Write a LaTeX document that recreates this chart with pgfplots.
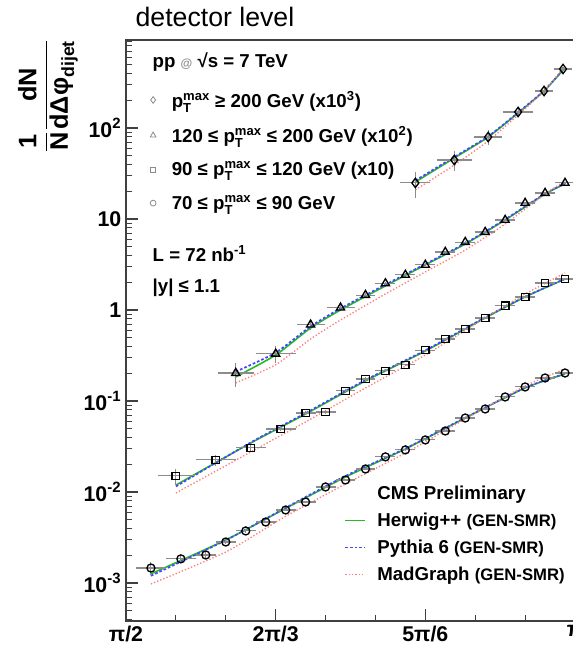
\documentclass[border=0pt]{standalone}
\usepackage{fontspec}
\setmainfont{Liberation Sans}
\usepackage{amsmath}
\usepackage{pgfplots}
\pgfplotsset{compat=1.18}
\usepackage{pgfplotstable}

\definecolor{herwiggreen}{RGB}{40,185,40}
\definecolor{pythiablue}{RGB}{70,70,255}
\definecolor{madpink}{RGB}{255,125,125}

% >= 200 GeV (x1000)
\pgfplotstableread{
x y ex ey
2.5831 24.9 0.0524 8
2.7192 44.5 0.0611 11
2.8379 79.6 0.0489 15
2.9426 150 0.0524 14
3.0334 255 0.0314 18
3.0997 445 0.0314 25
}\dataA
% 120-200 GeV (x100)
\pgfplotstableread{
x y ex ey
1.9548 0.203 0.0628 0.06
2.0944 0.33 0.0698 0.07
2.2166 0.69 0.0489 0.08
2.3213 1.06 0.0489 0.08
2.4086 1.46 0.0349 0.08
2.4784 1.96 0.0349 0.09
2.5482 2.43 0.0349 0.1
2.6180 3.13 0.0349 0.12
2.6878 4.34 0.0349 0.15
2.7576 5.58 0.0349 0.18
2.8274 7.19 0.0349 0.22
2.8972 9.75 0.0349 0.3
2.9671 15.0 0.0349 0.4
3.0369 19.3 0.0349 0.5
3.1067 24.9 0.0349 0.6
}\dataB
% 90-120 GeV (x10)
\pgfplotstableread{
x y ex ey
1.7453 0.0150 0.0628 0.003
1.8850 0.0225 0.0698 0.003
2.0071 0.0305 0.0524 0.003
2.1118 0.0492 0.0524 0.003
2.1991 0.0738 0.0349 0.004
2.2689 0.0757 0.0349 0.004
2.3387 0.129 0.0349 0.006
2.4086 0.1745 0.0349 0.007
2.4784 0.214 0.0349 0.008
2.5482 0.249 0.0349 0.009
2.6180 0.363 0.0349 0.012
2.6878 0.480 0.0349 0.015
2.7576 0.618 0.0349 0.018
2.8274 0.817 0.0349 0.022
2.8972 1.11 0.0349 0.03
2.9671 1.39 0.0349 0.035
3.0369 1.98 0.0349 0.045
3.1067 2.19 0.0349 0.05
}\dataC
% 70-90 GeV
\pgfplotstableread{
x y ex ey
1.6581 1.46e-3 0.0524 2.5e-4
1.7628 1.84e-3 0.0524 2e-4
1.8500 2.03e-3 0.0349 1.5e-4
1.9199 2.82e-3 0.0349 1.5e-4
1.9897 3.73e-3 0.0349 1.5e-4
2.0595 4.68e-3 0.0349 1.5e-4
2.1293 6.34e-3 0.0349 2e-4
2.1991 7.76e-3 0.0349 2e-4
2.2689 0.01135 0.0349 3e-4
2.3387 0.01355 0.0349 3e-4
2.4086 0.0179 0.0349 4e-4
2.4784 0.0243 0.0349 5e-4
2.5482 0.0290 0.0349 6e-4
2.6180 0.0373 0.0349 7e-4
2.6878 0.0468 0.0349 9e-4
2.7576 0.0650 0.0349 1.2e-3
2.8274 0.0817 0.0349 1.5e-3
2.8972 0.1107 0.0349 2e-3
2.9671 0.1426 0.0349 2.5e-3
3.0369 0.179 0.0349 3e-3
3.1067 0.203 0.0349 3.5e-3
}\dataD

\tikzset{
  hwl/.style={draw=herwiggreen, line width=1.2pt},
  pyl/.style={draw=pythiablue, line width=1.3pt, dash pattern=on 2pt off 1.5pt},
  mgl/.style={draw=madpink, line width=1.0pt, dash pattern=on 1pt off 1.5pt},
}

\begin{document}
\begin{tikzpicture}
% ---------- model curves ----------
\begin{axis}[scale only axis, width=336.75pt, height=435.75pt,
  at={(0pt,0pt)}, anchor=south west,
  xmin=1.5708, xmax=3.1416, ymode=log, ymin=3.82e-4, ymax=927,
  axis lines=none, xtick=\empty, ytick=\empty,
  legend style={at={(rel axis cs:0.477,0.242)}, anchor=north west, draw=none, fill=none,
    font=\fontsize{14}{17}\selectfont\bfseries, row sep=4.5pt},
  legend cell align=left,
  legend image code/.code={\draw[#1] (0pt,0pt) -- (15pt,0pt); \path[draw=none] (0pt,0pt) -- (22pt,0pt);},
]
% Herwig++
\addplot[hwl, smooth, tension=0.4, forget plot] coordinates {(1.6581,1.26e-3)(1.9199,2.97e-3)(2.1293,6.6e-3)(2.3387,0.0146)(2.5482,0.0297)(2.7576,0.0650)(2.9671,0.139)(3.1067,0.198)};
\addplot[hwl, smooth, tension=0.4, forget plot] coordinates {(1.7453,0.0119)(2.0071,0.0345)(2.1991,0.0719)(2.4086,0.166)(2.6180,0.354)(2.8274,0.817)(2.9671,1.39)(3.1067,2.19)};
\addplot[hwl, smooth, tension=0.4, forget plot] coordinates {(1.9548,0.184)(2.0944,0.32)(2.2166,0.634)(2.3213,1.0)(2.4784,1.84)(2.6180,3.13)(2.7576,5.31)(2.8972,9.75)(3.0369,18.8)(3.1067,24.3)};
\addplot[hwl, smooth, tension=0.4, forget plot] coordinates {(2.5831,25.5)(2.7192,46.8)(2.8379,79.6)(2.9426,146)(3.0334,255)(3.0997,433)};
% Pythia 6
\addplot[pyl, smooth, tension=0.4, forget plot] coordinates {(1.6581,1.20e-3)(1.9199,2.95e-3)(2.1293,6.7e-3)(2.3387,0.0150)(2.5482,0.0300)(2.7576,0.0655)(2.9671,0.140)(3.1067,0.199)};
\addplot[pyl, smooth, tension=0.4, forget plot] coordinates {(1.7453,0.0115)(2.0071,0.0350)(2.1991,0.0735)(2.4086,0.170)(2.6180,0.360)(2.8274,0.83)(2.9671,1.40)(3.1067,2.20)};
\addplot[pyl, smooth, tension=0.4, forget plot] coordinates {(1.9548,0.21)(2.0944,0.34)(2.2166,0.66)(2.3213,1.04)(2.4784,1.90)(2.6180,3.2)(2.7576,5.4)(2.8972,9.9)(3.0369,19.0)(3.1067,24.5)};
\addplot[pyl, smooth, tension=0.4, forget plot] coordinates {(2.5831,26.5)(2.7192,48)(2.8379,81)(2.9426,148)(3.0334,258)(3.0997,438)};
% MadGraph
\addplot[mgl, smooth, tension=0.4, forget plot] coordinates {(1.6581,9.75e-4)(1.9199,2.19e-3)(2.1293,5.4e-3)(2.3387,0.01225)(2.5482,0.0268)(2.7576,0.0634)(2.9671,0.146)(3.1067,0.225)};
\addplot[mgl, smooth, tension=0.4, forget plot] coordinates {(1.7453,9.75e-3)(2.0071,0.0275)(2.1991,0.0588)(2.4086,0.139)(2.6180,0.320)(2.8274,0.817)(2.9671,1.50)(3.1067,2.55)};
\addplot[mgl, smooth, tension=0.4, forget plot] coordinates {(1.9548,0.158)(2.0944,0.25)(2.2166,0.480)(2.3213,0.776)(2.4784,1.50)(2.6180,2.62)(2.7576,4.56)(2.8972,8.81)(3.0369,18.8)(3.1067,26.2)};
\addplot[mgl, smooth, tension=0.4, forget plot] coordinates {(2.5831,20.9)(2.7192,39.1)(2.8379,72)(2.9426,139)(3.0334,255)(3.0997,456)};
\addlegendimage{empty legend}
\addlegendentry{CMS Preliminary\rule[-8pt]{0pt}{8pt}}
\addlegendimage{hwl}
\addlegendentry{Herwig++ {\fontsize{12.5}{14}\selectfont(GEN-SMR)}}
\addlegendimage{draw=pythiablue, line width=1.3pt, dash pattern=on 2pt off 1.5pt}
\addlegendentry{Pythia 6 {\fontsize{12.5}{14}\selectfont(GEN-SMR)}}
\addlegendimage{mgl}
\addlegendentry{MadGraph {\fontsize{12.5}{14}\selectfont(GEN-SMR)}}
\end{axis}
% ---------- data ----------
\begin{axis}[scale only axis, width=336.75pt, height=435.75pt,
  at={(0pt,0pt)}, anchor=south west,
  xmin=1.5708, xmax=3.1416, ymode=log, ymin=3.82e-4, ymax=927,
  clip mode=individual,
  axis line style={black!75, line width=0.8pt},
  tick style={black!75, line width=0.8pt},
  major tick length=9pt, minor tick length=4.5pt,
  tick pos=left,
  xtick={1.5708,2.0944,2.6180,3.1416},
  xticklabels={π/2,2π/3,5π/6,π},
  minor xtick={1.7453,1.9199,2.2689,2.4435,2.7925,2.9671},
  ytick={1e-3,1e-2,1e-1,1,10,100},
  yticklabels={10\textsuperscript{-3},10\textsuperscript{-2},10\textsuperscript{-1},1,10,10\textsuperscript{2}},
  minor ytick={4e-4,5e-4,6e-4,7e-4,8e-4,9e-4,2e-3,3e-3,4e-3,5e-3,6e-3,7e-3,8e-3,9e-3,2e-2,3e-2,4e-2,5e-2,6e-2,7e-2,8e-2,9e-2,0.2,0.3,0.4,0.5,0.6,0.7,0.8,0.9,2,3,4,5,6,7,8,9,20,30,40,50,60,70,80,90,200,300,400,500,600,700,800,900},
  tick label style={font=\fontsize{16}{19}\selectfont\bfseries},
  ylabel={$\dfrac{\text{1}}{\text{N}}\dfrac{\text{dN}}{\text{dΔφ}_{\text{dijet}}}$},
  ylabel style={at={(rel axis cs:-0.174,0.904)}, anchor=center, font=\fontsize{19}{22}\selectfont\bfseries},
  legend style={at={(rel axis cs:0.039,0.922)}, anchor=north west, draw=none, fill=none,
    font=\fontsize{14}{17}\selectfont\bfseries, row sep=9pt},
  legend cell align=left,
  legend image code/.code={\path[draw=none] (0pt,0pt) -- (16pt,0pt); \draw[#1] plot coordinates {(4pt,0pt)};},
]
\addplot[only marks, black, line width=1pt, mark=diamond, mark size=3.5pt, forget plot,
  error bars/.cd, x dir=both, x explicit, y dir=both, y explicit,
  error bar style={black!45, line width=0.8pt}, error mark=none]
  table[x=x,y=y,x error=ex,y error=ey]{\dataA};
\addplot[only marks, black, line width=1pt, mark=triangle, mark size=3.5pt, forget plot,
  error bars/.cd, x dir=both, x explicit, y dir=both, y explicit,
  error bar style={black!45, line width=0.8pt}, error mark=none]
  table[x=x,y=y,x error=ex,y error=ey]{\dataB};
\addplot[only marks, black, line width=1pt, mark=square, mark size=2.8pt, forget plot,
  error bars/.cd, x dir=both, x explicit, y dir=both, y explicit,
  error bar style={black!45, line width=0.8pt}, error mark=none]
  table[x=x,y=y,x error=ex,y error=ey]{\dataC};
\addplot[only marks, black, line width=1pt, mark=o, mark size=3pt, forget plot,
  error bars/.cd, x dir=both, x explicit, y dir=both, y explicit,
  error bar style={black!45, line width=0.8pt}, error mark=none]
  table[x=x,y=y,x error=ex,y error=ey]{\dataD};
\addlegendimage{only marks, mark=diamond, mark size=2.5pt, black!45, line width=0.6pt}
\addlegendentry{p$_\text{T}^\text{max}$ ≥ 200 GeV (x10\textsuperscript{3})}
\addlegendimage{only marks, mark=triangle, mark size=2.5pt, black!45, line width=0.6pt}
\addlegendentry{120 ≤ p$_\text{T}^\text{max}$ ≤ 200 GeV (x10\textsuperscript{2})}
\addlegendimage{only marks, mark=square, mark size=2pt, black!45, line width=0.6pt}
\addlegendentry{90 ≤ p$_\text{T}^\text{max}$ ≤ 120 GeV (x10)}
\addlegendimage{only marks, mark=o, mark size=2.2pt, black!45, line width=0.6pt}
\addlegendentry{70 ≤ p$_\text{T}^\text{max}$ ≤ 90 GeV}
\node[anchor=base west, font=\fontsize{20}{24}\selectfont] at (rel axis cs:0.011,1.024) {detector level};
\node[anchor=base west, font=\fontsize{14}{17}\selectfont\bfseries] at (rel axis cs:0.049,0.9535) {pp {\color{black!45}\fontsize{9}{10}\selectfont @} √s = 7 TeV};
\node[anchor=base west, font=\fontsize{14}{17}\selectfont\bfseries] at (rel axis cs:0.049,0.618) {L = 72 nb\textsuperscript{-1}};
\node[anchor=base west, font=\fontsize{14}{17}\selectfont\bfseries] at (rel axis cs:0.049,0.566) {|y| ≤ 1.1};
\end{axis}
\pgfresetboundingbox
\useasboundingbox (-94.5pt,-21.75pt) rectangle (334.5pt,465.75pt);
\end{tikzpicture}
\end{document}
